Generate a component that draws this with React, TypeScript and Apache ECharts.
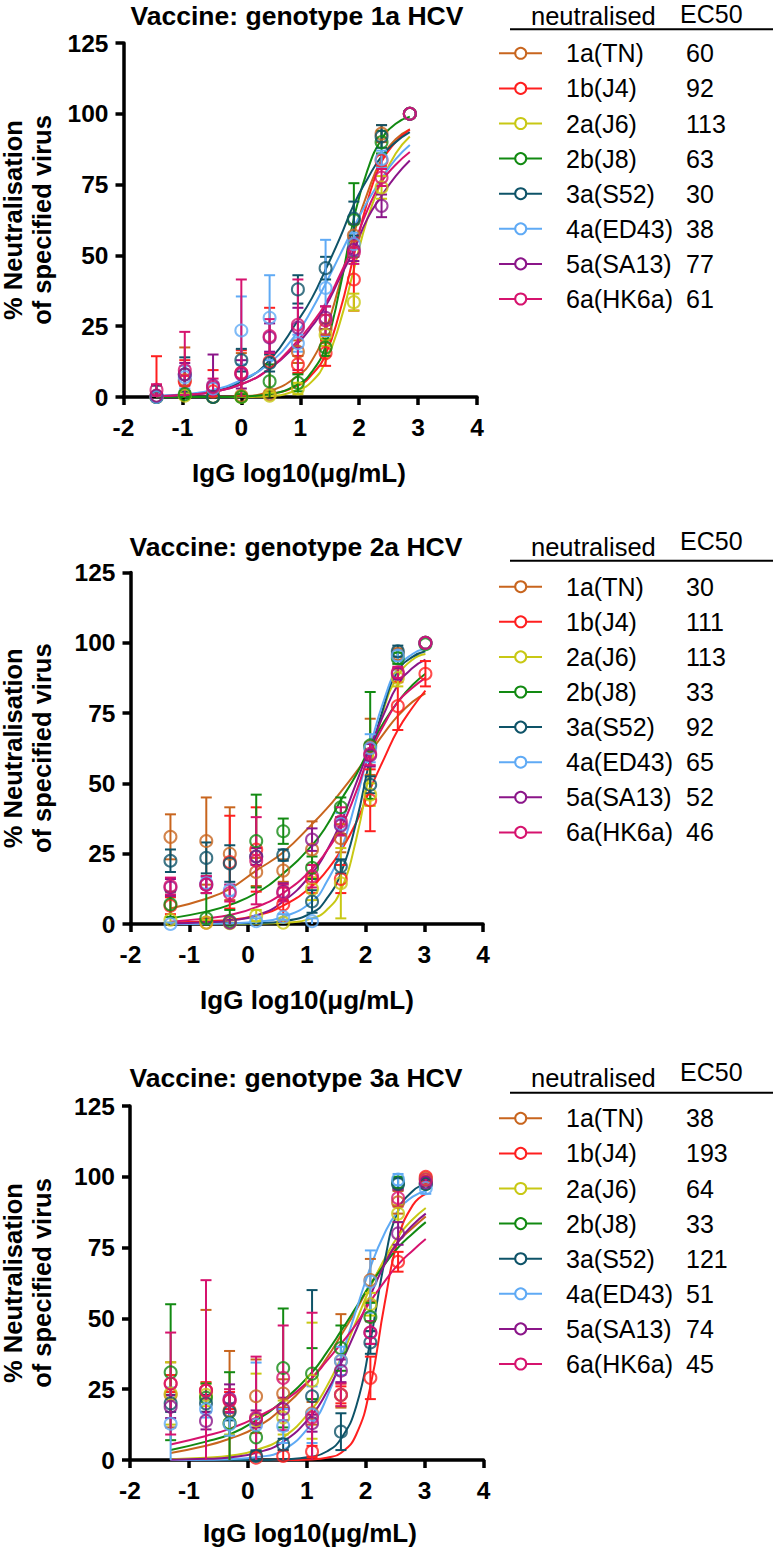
import React, { useEffect, useRef } from "react";
import * as echarts from "echarts";

// ---------- data ----------
const strains = ["1a(TN)", "1b(J4)", "2a(J6)", "2b(J8)", "3a(S52)", "4a(ED43)", "5a(SA13)", "6a(HK6a)"];
const colors = ["#C8651E", "#FF1F1F", "#C8C814", "#128A12", "#0E5368", "#5FAAF5", "#8B1589", "#D6136E"];
const titles = ["Vaccine: genotype 1a HCV", "Vaccine: genotype 2a HCV", "Vaccine: genotype 3a HCV"];
const legendHeader = ["neutralised", "EC50"];
const xAxisName = "IgG log10(μg/mL)";
const yAxisName = ["% Neutralisation", "of specified virus"];
const xTicks = [-2, 4, 1];
const yTicks = [0, 125, 25];

const p1Ec50 = [60, 92, 113, 63, 30, 38, 77, 61];
const p2Ec50 = [30, 111, 113, 33, 92, 65, 52, 46];
const p3Ec50 = [38, 193, 64, 33, 121, 51, 74, 45];

// panel 1 measured points
const p1X = [-1.44, -0.96, -0.48, 0, 0.48, 0.96, 1.43, 1.91, 2.38, 2.86];
const p1Mean = [
  [0, 6, 0, 0.5, 1, 16, 24, 57, 93, 100],
  [0.4, 5.5, 2, 8.5, 12.5, 11.5, 15.5, 41.5, 83.5, 100],
  [0, 0.5, 0, 0, 0.5, 3, 22, 33.5, 74, 100],
  [0, 1, 0, 0, 5.5, 5, 17.5, 62.5, 90, 100],
  [0, 8, 0, 13, 12, 38, 45.5, 63, 92, 100],
  [0, 7, 3, 23.5, 28, 19, 38.5, 54, 84, 100],
  [0.5, 8, 4, 8, 21, 24.5, 28, 52, 67.5, 100],
  [2.5, 9.5, 3.5, 8.5, 21.5, 25.5, 27, 51, 77.5, 100],
];
const p1Err = [
  [0.5, 11.5, 0.5, 15, 1, 4, 5, 4, 3, 0],
  [14, 7.5, 7.5, 8, 19, 3, 4.5, 11, 2, 0],
  [0.5, 1, 0.5, 1, 1, 2, 4, 3, 4, 0],
  [0.5, 1, 0.5, 1, 6, 3, 3, 13, 4, 0],
  [4, 6, 1, 4, 3, 5, 4, 6, 4, 0],
  [0.5, 4, 2, 12, 15, 3, 17, 4, 3, 0],
  [1, 4, 11, 5, 5, 7, 4, 4, 4, 0],
  [2, 13.5, 3, 33, 6, 16, 5, 4, 3, 0],
];
// panel 1 fitted curves
const p1CurveX = [-1.44, -0.96, -0.48, 0, 0.48, 0.96, 1.2, 1.43, 1.67, 1.91, 2.14, 2.38, 2.62, 2.86];
const p1Curve = [
  [0, 0, 0.05, 0.3, 2, 7.5, 13, 23.5, 40, 57.5, 72, 84, 91, 94.5],
  [0, 0, 0, 0.1, 1, 4, 8, 15, 30, 50, 69, 83, 90, 94.5],
  [0, 0, 0, 0, 0.3, 2.5, 5.5, 12.5, 26, 45, 63, 76, 86, 92],
  [0, 0, 0, 0.2, 1, 4.5, 9, 18, 38, 63, 80, 91, 96.5, 99],
  [0.3, 0.8, 2, 5.5, 13, 27, 35, 45, 56, 68, 77, 85, 90, 93.5],
  [0.5, 1, 2.5, 6, 12, 23, 31, 40, 50, 60, 69, 77, 84, 89],
  [0.3, 0.8, 1.8, 4.5, 10, 19, 25, 32, 42, 52, 63, 71, 78, 83.5],
  [0.3, 0.8, 1.8, 4.5, 10, 20, 26, 33, 43, 54, 66, 76, 82, 86.5],
];

// panel 2 measured points
const p2X = [-1.32, -0.71, -0.31, 0.14, 0.6, 1.09, 1.58, 2.08, 2.55, 3.02];
const p2Mean = [
  [31, 29.5, 25, 18.5, 19, 26.5, 30.5, 63, 96, 100],
  [6.5, 0.5, 22, 26.5, 7, 16, 16, 44, 77.5, 89],
  [1.5, 0.5, 0.3, 3, 0.5, 12.5, 14.5, 46, 87.5, 100],
  [7, 2, 1, 29.5, 33, 20, 41.5, 63.5, 94.5, 99.5],
  [22.5, 23.5, 21.5, 24, 24.5, 8, 20.5, 49.5, 97, 100],
  [0, 14.5, 12, 1, 2.5, 1, 35.5, 62.5, 95.5, 100],
  [13, 14, 0.5, 24, 11.5, 30, 35, 60, 89, 100],
  [13.5, 14, 11, 22.5, 11, 17, 36.5, 60.5, 89.5, 100],
];
const p2Err = [
  [8, 15.5, 16.5, 5, 4, 10, 5, 10, 2, 0],
  [3, 1, 16.5, 15, 6, 5, 5, 11, 8.5, 4.5],
  [1, 1, 1, 2, 1, 4, 12.5, 4, 3, 0],
  [4.5, 9, 4, 16.5, 4.5, 4, 3.5, 19, 2, 0],
  [4, 5.5, 6.5, 3, 2, 4, 2.5, 3, 2, 0],
  [0.5, 2, 2, 1, 1, 1, 4, 5, 2, 0],
  [3, 3, 1, 3, 3, 4, 3, 4, 2, 0],
  [3, 3, 3, 15.5, 3, 4, 5, 4, 2, 0],
];
const p2CurveX = [-1.32, -0.71, -0.31, 0.14, 0.6, 1.09, 1.34, 1.58, 1.84, 2.08, 2.32, 2.55, 2.8, 3.02];
const p2Curve = [
  [5.5, 9, 12.5, 19, 25.5, 35.5, 41, 47, 54, 61, 68, 74, 79, 82],
  [0.5, 1, 1.5, 3, 6.5, 13.5, 19, 26, 36, 48, 59, 69, 77, 83],
  [0, 0, 0, 0.1, 0.4, 2, 5, 12, 30, 55, 77, 88, 94, 96],
  [2, 4.4, 6.8, 11, 18, 28, 35, 44, 53, 63, 72, 79, 85, 89],
  [0, 0, 0.1, 0.3, 1, 4, 9, 18, 36, 59, 78, 90, 95, 97],
  [0, 0.1, 0.3, 0.8, 2.5, 8, 15, 26, 44, 63, 80, 91, 96, 98],
  [0.2, 0.6, 1.2, 3, 8, 18, 26, 36, 50, 63, 75, 85, 91, 94],
  [0.8, 2, 3.2, 6, 11, 19.5, 26, 34, 47, 61, 71, 79, 84, 87.5],
];

// panel 3 measured points
const p3X = [-1.31, -0.71, -0.31, 0.14, 0.6, 1.09, 1.58, 2.08, 2.55, 3.02];
const p3Mean = [
  [23, 24.5, 17.5, 22.5, 23.5, 16.5, 35, 63.5, 91, 99.5],
  [27, 24.5, 21, 0.8, 1.4, 3, 23, 29, 70, 100],
  [23.5, 23, 13, 14, 15, 28, 23, 55, 87, 99],
  [31, 22, 13, 8, 32.5, 30.5, 39.5, 50.5, 98, 97.5],
  [20, 20, 17, 1.4, 5.5, 22.5, 10, 41.5, 97.5, 97.5],
  [12.8, 18, 12.6, 12.4, 12, 16, 35, 63, 99, 96],
  [18.8, 13.8, 21.7, 14.5, 18, 13, 31.5, 45, 80, 98],
  [27, 24.5, 21, 15, 29, 15, 23, 45, 92.5, 99],
];
const p3Err = [
  [11.5, 28.5, 21, 13, 5, 4, 16.5, 7.5, 4, 0.5],
  [3, 3, 3, 2, 2, 2, 3, 7.5, 3.5, 0.5],
  [11, 4, 4, 16.5, 6, 20.5, 4, 4, 3, 1],
  [24, 5, 18, 5, 21, 9, 8, 5, 2, 1],
  [3, 3, 3, 2, 2, 37.5, 6.5, 4, 2, 1],
  [12.8, 3, 4, 22, 6, 10, 5, 11, 2, 2],
  [4, 3, 5, 3, 4, 3, 4, 4, 4, 1],
  [18, 39, 4, 21.5, 18.5, 37, 4, 4, 3, 1],
];
const p3CurveX = [-1.31, -0.71, -0.31, 0.14, 0.6, 1.09, 1.34, 1.58, 1.84, 2.08, 2.32, 2.55, 2.8, 3.02];
const p3Curve = [
  [2.5, 5, 7.5, 11.5, 18.5, 29, 36, 44, 53, 62, 70, 77, 82, 86],
  [0, 0, 0, 0, 0, 0.2, 0.8, 2.5, 9, 26, 55, 78, 90, 94],
  [0.3, 0.8, 1.5, 3.5, 8, 18, 26, 36, 49, 61, 71, 79, 85, 89],
  [3.5, 6.5, 9, 14, 21, 31, 38, 45.5, 54, 62, 69, 75, 80, 84],
  [0, 0, 0, 0, 0.2, 1.2, 3, 7.5, 19, 42, 70, 88, 95, 97.5],
  [0, 0.1, 0.3, 1, 3.5, 13, 22, 36, 53, 68, 80, 88, 93, 95],
  [0.1, 0.4, 0.9, 2.5, 6.5, 16, 24, 34, 46, 58, 69, 77, 83, 87],
  [5.5, 8.5, 11, 15, 20.5, 29, 35, 41, 48, 56, 63, 69, 74, 78],
];

// ---------- layout ----------
const FONT = '"Liberation Sans", Arial, Helvetica, sans-serif';
const layouts = [
  { left: 123.5, top: 43, width: 353.5, height: 354, titleX: 297, titleY: 15.5, xNameX: 299, xNameY: 473, hdrY: 15.5, ecY: 14, ulY: 29.3, rowY: 53.3 },
  { left: 130.5, top: 572.5, width: 352.5, height: 351.5, titleX: 296, titleY: 546.7, xNameX: 307, xNameY: 1000, hdrY: 547, ecY: 541, ulY: 560.7, rowY: 586.7 },
  { left: 130, top: 1106, width: 353.5, height: 354, titleX: 296, titleY: 1078, xNameX: 310, xNameY: 1533, hdrY: 1078.3, ecY: 1071.7, ulY: 1092.7, rowY: 1118.3 },
];
const ROW_GAP = 35.1;

const panels = [
  { title: titles[0], x: p1X, mean: p1Mean, err: p1Err, cx: p1CurveX, curve: p1Curve, ec50: p1Ec50 },
  { title: titles[1], x: p2X, mean: p2Mean, err: p2Err, cx: p2CurveX, curve: p2Curve, ec50: p2Ec50 },
  { title: titles[2], x: p3X, mean: p3Mean, err: p3Err, cx: p3CurveX, curve: p3Curve, ec50: p3Ec50 },
];

function buildOption() {
  const grid: any[] = [];
  const xAxis: any[] = [];
  const yAxis: any[] = [];
  const series: any[] = [];
  const graphic: any[] = [];

  const axisCommon = {
    axisLine: { show: true, onZero: false, lineStyle: { color: "#000", width: 3.5 } },
    axisTick: { show: true, inside: false, length: 8, lineStyle: { color: "#000", width: 3.5 } },
    splitLine: { show: false },
  };

  panels.forEach((pn, p) => {
    const L = layouts[p];
    grid.push({ left: L.left, top: L.top, width: L.width, height: L.height, containLabel: false });
    xAxis.push({
      type: "value", gridIndex: p, min: xTicks[0], max: xTicks[1], interval: xTicks[2],
      ...axisCommon,
      axisLabel: { color: "#000", fontSize: 24.5, fontWeight: "bold", fontFamily: FONT, margin: 18 },
    });
    yAxis.push({
      type: "value", gridIndex: p, min: yTicks[0], max: yTicks[1], interval: yTicks[2],
      ...axisCommon,
      axisLabel: { color: "#000", fontSize: 24.5, fontWeight: "bold", fontFamily: FONT, margin: 15 },
    });

    strains.forEach((name, s) => {
      const color = colors[s];
      series.push({
        type: "line", name, xAxisIndex: p, yAxisIndex: p,
        data: pn.cx.map((x, i) => [x, pn.curve[s][i]]),
        smooth: 0.5, showSymbol: false, symbol: "none",
        lineStyle: { color, width: 2 }, itemStyle: { color }, z: 2, silent: true,
      });
      series.push({
        type: "custom", name, xAxisIndex: p, yAxisIndex: p,
        data: pn.x.map((x, i) => [x, pn.mean[s][i], pn.err[s][i]]),
        renderItem: (_params: any, api: any) => {
          const x = api.value(0);
          const y = api.value(1);
          const e = api.value(2);
          if (!e) return { type: "group", children: [] };
          const lo = Math.max(0, y - e);
          const hi = Math.min(125, y + e);
          const t = api.coord([x, hi]);
          const b = api.coord([x, lo]);
          const hw = 5.5;
          const st = { stroke: color, lineWidth: 2 };
          const children: any[] = [
            { type: "line", shape: { x1: t[0], y1: t[1], x2: b[0], y2: b[1] }, style: st },
            { type: "line", shape: { x1: t[0] - hw, y1: t[1], x2: t[0] + hw, y2: t[1] }, style: st },
          ];
          if (y - e > 0) children.push({ type: "line", shape: { x1: b[0] - hw, y1: b[1], x2: b[0] + hw, y2: b[1] }, style: st });
          return { type: "group", children };
        },
        z: 3, silent: true,
      });
      series.push({
        type: "scatter", name, xAxisIndex: p, yAxisIndex: p,
        data: pn.x.map((x, i) => [x, pn.mean[s][i]]),
        symbol: "circle", symbolSize: 12,
        itemStyle: { color: "rgba(255,255,255,0)", borderColor: color, borderWidth: 2 },
        z: 4, silent: true,
      });
    });

    // title
    graphic.push({
      type: "text", x: L.titleX, y: L.titleY,
      style: { text: pn.title, fill: "#000", fontSize: 26.5, fontWeight: "bold", fontFamily: FONT, align: "center", verticalAlign: "middle" },
    });
    // y axis name (two lines, rotated)
    const cy = L.top + L.height / 2;
    graphic.push({
      type: "text", x: 13, y: cy, rotation: Math.PI / 2,
      style: { text: yAxisName[0], fill: "#000", fontSize: 25.5, fontWeight: "bold", fontFamily: FONT, align: "center", verticalAlign: "middle" },
    });
    graphic.push({
      type: "text", x: 42, y: cy, rotation: Math.PI / 2,
      style: { text: yAxisName[1], fill: "#000", fontSize: 25.5, fontWeight: "bold", fontFamily: FONT, align: "center", verticalAlign: "middle" },
    });
    // x axis name
    graphic.push({
      type: "text", x: L.xNameX, y: L.xNameY,
      style: { text: xAxisName, fill: "#000", fontSize: 26, fontWeight: "bold", fontFamily: FONT, align: "center", verticalAlign: "middle" },
    });
    // legend header
    graphic.push({
      type: "text", x: 531, y: L.hdrY,
      style: { text: legendHeader[0], fill: "#000", fontSize: 25.5, fontFamily: FONT, align: "left", verticalAlign: "middle" },
    });
    graphic.push({
      type: "text", x: 680, y: L.ecY,
      style: { text: legendHeader[1], fill: "#000", fontSize: 25, fontFamily: FONT, align: "left", verticalAlign: "middle" },
    });
    graphic.push({
      type: "line", shape: { x1: 510, y1: L.ulY, x2: 773, y2: L.ulY }, style: { stroke: "#000", lineWidth: 2 },
    });
    strains.forEach((name, s) => {
      const y = L.rowY + s * ROW_GAP;
      const color = colors[s];
      graphic.push({ type: "line", shape: { x1: 499, y1: y, x2: 542, y2: y }, style: { stroke: color, lineWidth: 2 } });
      graphic.push({ type: "circle", shape: { cx: 520.7, cy: y, r: 5.5 }, style: { fill: "#fff", stroke: color, lineWidth: 2 } });
      graphic.push({
        type: "text", x: 566, y,
        style: { text: name, fill: "#000", fontSize: 25, fontFamily: FONT, align: "left", verticalAlign: "middle" },
      });
      graphic.push({
        type: "text", x: 686, y,
        style: { text: String(pn.ec50[s]), fill: "#000", fontSize: 25, fontFamily: FONT, align: "left", verticalAlign: "middle" },
      });
    });
  });

  return {
    animation: false,
    backgroundColor: "#fff",
    grid, xAxis, yAxis, series, graphic,
  };
}

export default function App() {
  const ref = useRef<HTMLDivElement>(null);
  useEffect(() => {
    if (!ref.current) return;
    const chart = echarts.init(ref.current, null, { renderer: "svg" });
    chart.setOption(buildOption() as any);
    return () => chart.dispose();
  }, []);
  return (
    <div
      ref={ref}
      style={{ position: "absolute", left: 0, top: 0, width: 773, height: 1549, background: "#fff" }}
    />
  );
}
